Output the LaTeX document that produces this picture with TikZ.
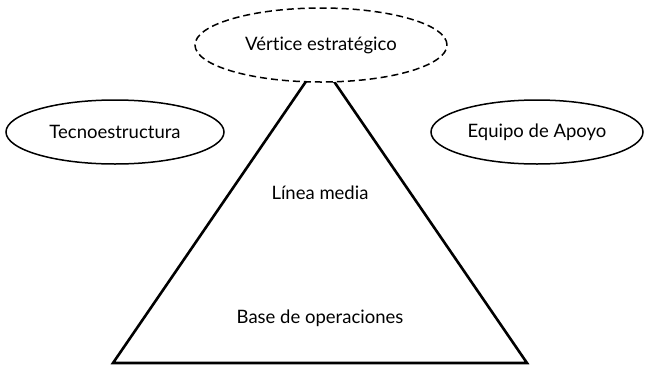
\documentclass[tikz,border=0pt]{standalone}
\usepackage{fontspec}
\setmainfont[Ligatures=NoCommon]{Lato}
\usetikzlibrary{shapes.geometric}
\begin{document}
\begin{tikzpicture}[x=1pt,y=-1pt,
  lbl/.style={font=\fontsize{18.5}{22}\selectfont},
  oval/.style={ellipse,draw,line width=1.5pt,fill=white,inner sep=0pt}]
\useasboundingbox (0,0) rectangle (647,370);
\coordinate (bl) at (113,363);
\coordinate (br) at (527,363);
\coordinate (ap) at (320,61);
\draw[line width=2.6pt,line join=miter] (ap) -- (bl) -- (br) -- cycle;
\node[oval,dashed,dash pattern=on 7pt off 4pt,minimum width=252pt,minimum height=74pt] (v) at (321,45) {};
\node[lbl] (vt) at (321,45) {Vértice estratégico};
\node[oval,minimum width=218pt,minimum height=64pt] (t) at (115,132) {};
\node[lbl] (tt) at (115,132) {Tecnoestructura};
\node[oval,minimum width=212pt,minimum height=64pt] (e) at (537,132) {};
\node[lbl] (et) at (537,132) {Equipo de Apoyo};
\node[lbl] (lm) at (320,193) {Línea media};
\node[lbl] (bo) at (320,318) {Base de operaciones};
\end{tikzpicture}
\end{document}
